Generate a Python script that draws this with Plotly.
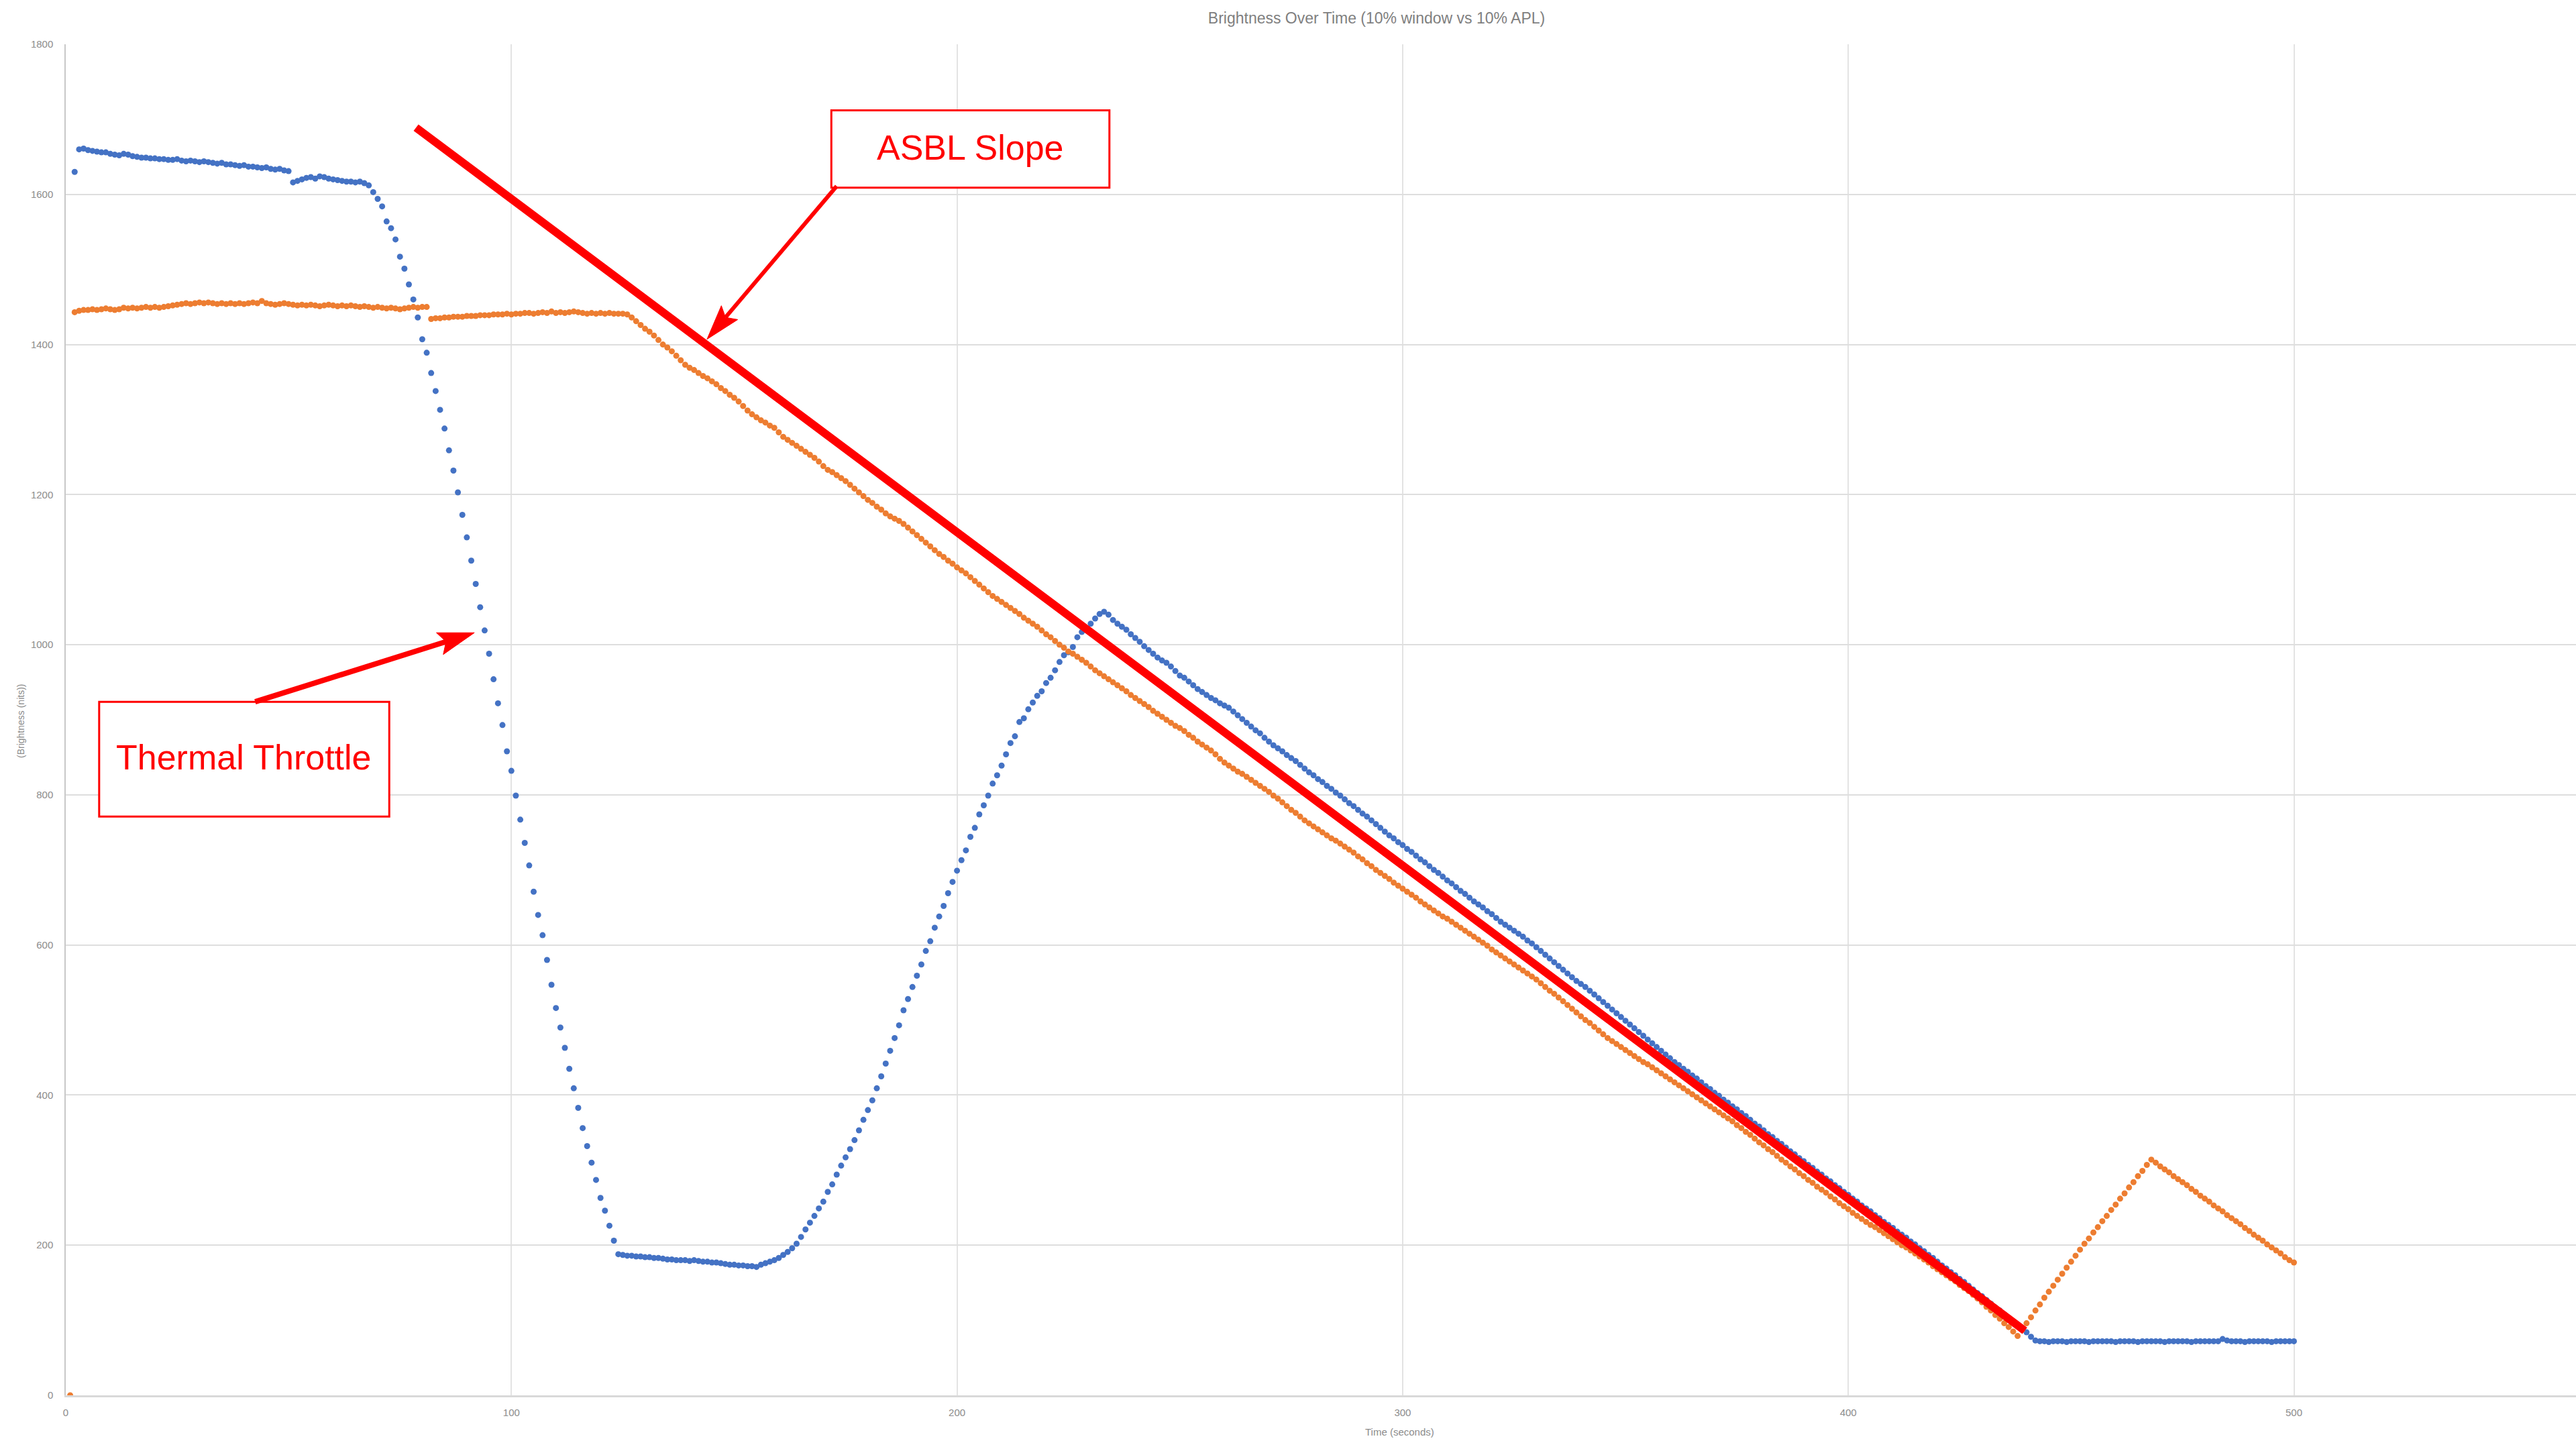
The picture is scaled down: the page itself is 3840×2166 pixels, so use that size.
import math
import plotly.graph_objects as go

# ---------------- data ----------------
blue_name = "10% window"
blue_start = 2  # seconds of first blue sample, one sample per second
blue_values = [
    1630,
    1660, 1661, 1659, 1658, 1657, 1656, 1656, 1654, 1653, 1652,
    1654, 1653, 1651, 1650, 1649, 1649, 1648, 1648, 1647, 1647,
    1646, 1646, 1647, 1645, 1644, 1645, 1644, 1643, 1644, 1643,
    1642, 1641, 1642, 1640, 1640, 1639, 1638, 1639, 1637, 1637,
    1636, 1635, 1636, 1634, 1633, 1634, 1632, 1631,
    1616, 1618, 1620, 1622, 1623, 1621, 1624, 1623, 1621, 1620,
    1619, 1618, 1617, 1617, 1616, 1617, 1615, 1612,
    1603, 1594, 1584, 1564, 1555, 1540, 1517, 1501, 1480, 1460, 1436, 1407, 1389,
    1362, 1338, 1313, 1288, 1259, 1232, 1203, 1173, 1143, 1112,
    1081, 1050, 1019, 988, 954, 922, 893, 858, 832, 799,
    767, 736, 706, 671, 640, 613, 580, 547, 516, 490,
    463, 435, 409, 383, 356, 332, 310, 287, 263, 246,
    226, 206, 188,
    187, 186, 186, 185, 185, 184, 184, 183, 183, 182,
    181, 181, 180, 180, 180, 179, 180, 179, 178, 178,
    177, 177, 176, 175, 174, 174, 173, 173, 172, 172, 171,
    174, 176, 178, 180, 183, 187, 191, 196, 202, 211,
    221, 230, 239, 249, 258, 271, 281, 294, 306, 317,
    328, 340, 353, 367, 380, 393, 409, 425, 442, 459,
    476, 493, 513, 528, 544, 559,
    574, 592, 605, 623, 638, 652, 669, 684, 699, 713,
    726, 744, 756, 774, 786, 799, 815, 826, 839, 854,
    869, 878, 897, 902, 914, 923, 932, 938, 949, 956,
    966, 977, 986, 990, 997, 1010, 1017, 1022, 1028, 1035,
    1041, 1044,
    1040, 1033, 1028, 1024, 1020, 1014, 1009, 1004, 998, 993,
    988, 983, 979, 976, 971, 965, 959, 956, 951, 946,
    941, 937, 933, 929, 926, 922, 919, 916, 911, 906,
    901, 896, 891, 886, 882, 876, 871, 866, 862, 858,
    853, 849, 845, 840, 835, 830, 826, 821, 817, 812,
    808, 803, 799, 794, 789, 785, 780, 775, 771, 766,
    761, 756, 751, 746, 742, 737, 733, 728, 724, 719,
    714, 710, 705, 700, 696, 691, 686, 682, 677, 672,
    668, 663, 658, 654, 650, 645, 641, 636, 631, 627,
    623, 619, 615, 611, 606, 602, 597, 592, 587, 582,
    577, 572, 567, 562, 557, 552, 548, 544, 539, 534,
    529, 524, 519, 514, 509, 504, 499, 494, 489, 484,
    479, 474, 469, 464, 459, 454, 449, 444, 440, 435,
    431, 426, 422, 417, 412, 408, 403, 399, 394, 390,
    385, 381, 376, 372, 367, 362, 358, 353, 348, 344,
    339, 335, 330, 325, 321, 316, 312, 307, 303, 298,
    294, 289, 285, 280, 276, 271, 267, 262, 258, 253,
    249, 245, 240, 236, 231, 227, 223, 218, 214, 210,
    205, 201, 196, 192, 187, 183, 178, 173, 169, 164,
    160, 155, 151, 146, 141, 136, 132, 127, 122, 117,
    113, 108, 103, 98, 94, 89, 84, 78, 73,
    72, 72, 71, 72, 72, 72, 71, 72, 72, 72,
    72, 71, 72, 72, 72, 72, 72, 71, 72, 72,
    72, 72, 71, 72, 72, 72, 72, 72, 71, 72,
    72, 72, 72, 72, 71, 72, 72, 72, 72, 72,
    72, 75, 73, 72, 72, 72, 71, 72, 72, 72,
    72, 72, 71, 72, 72, 72, 72, 72,
]

orange_name = "10% APL"
orange_start = 1
orange_values = [
    0,
    1443, 1445, 1446, 1446, 1447, 1446, 1447, 1448, 1447, 1446,
    1447, 1449, 1448, 1449, 1448, 1449, 1450, 1449, 1450, 1449,
    1450, 1451, 1452, 1453, 1454, 1455, 1454, 1455, 1456, 1455,
    1456, 1455, 1454, 1455, 1454, 1455, 1454, 1455, 1454, 1455,
    1456, 1455, 1458, 1455, 1454, 1453, 1454, 1455, 1454, 1453,
    1452, 1453, 1452, 1453, 1452, 1451, 1452, 1453, 1452, 1451,
    1452, 1451, 1452, 1451, 1450, 1451, 1450, 1449, 1450, 1449,
    1448, 1449, 1448, 1447, 1448, 1449, 1450, 1449, 1450, 1450,
    1434, 1435, 1435, 1436, 1436, 1437, 1437, 1437, 1438, 1438,
    1438, 1439, 1439, 1439, 1440, 1440, 1440, 1441, 1440, 1441,
    1441, 1442, 1442, 1441, 1442, 1443, 1442, 1444, 1442, 1443,
    1442, 1443, 1444, 1443, 1442, 1441, 1442, 1441, 1442, 1441,
    1442, 1441, 1441, 1441, 1440,
    1436, 1431, 1426, 1421, 1417, 1412, 1406, 1400, 1396, 1391,
    1385, 1379, 1373, 1369, 1366, 1362, 1358, 1355, 1351, 1347,
    1342, 1338, 1333, 1329, 1324, 1318, 1312, 1307, 1303, 1299,
    1296, 1292, 1289, 1283, 1277, 1273, 1269, 1265, 1261, 1257,
    1253, 1249, 1244, 1238, 1233, 1230, 1226, 1222, 1218, 1213,
    1208, 1203, 1198, 1193, 1189, 1184, 1180, 1175, 1171, 1168,
    1165, 1161, 1156, 1151, 1146, 1141, 1136, 1131, 1126, 1121,
    1117, 1112, 1108, 1103, 1099, 1095, 1090, 1085, 1080, 1075,
    1070, 1065, 1061, 1057, 1053, 1049, 1045, 1041, 1036, 1032,
    1028, 1024, 1019, 1014, 1010, 1005, 1000, 996, 991, 988,
    984, 980, 976, 971, 966, 962, 958, 954, 950, 946,
    942, 938, 933, 929, 925, 921, 917, 912, 908, 904,
    900, 896, 892, 889, 885, 880, 876, 871, 867, 863,
    859, 854, 848, 843, 839, 835, 831, 828, 824, 820,
    816, 812, 808, 804, 799, 795, 790, 785, 780, 776,
    771, 766, 762, 758, 754, 750, 746, 742, 739, 735,
    731, 727, 723, 718, 714, 709, 705, 700, 696, 692,
    688, 683, 679, 675, 671, 667, 663, 658, 654, 650,
    646, 642, 638, 635, 631, 627, 623, 619, 615, 611,
    607, 603, 599, 594, 590, 586, 582, 578, 574, 570,
    566, 562, 558, 554, 549, 544, 539, 535, 530, 525,
    520, 515, 510, 505, 500, 496, 491, 486, 481, 476,
    472, 468, 464, 460, 456, 452, 448, 444, 441, 437,
    433, 429, 425, 421, 417, 413, 409, 405, 401, 397,
    393, 389, 385, 381, 377, 373, 369, 365, 360, 356,
    351, 347, 342, 337, 333, 328, 324, 319, 314, 310,
    305, 301, 296, 292, 287, 283, 278, 274, 270, 265,
    261, 256, 252, 248, 243, 239, 235, 231, 227, 224,
    220, 216, 212, 208, 204, 200, 197, 193, 189, 185,
    181, 177, 172, 168, 164, 160, 156, 152, 147, 143,
    139, 134, 129, 124, 118, 113, 107, 102, 96, 91,
    85, 79, 87, 96, 104, 113, 121, 130, 138, 146,
    154, 162, 170, 178, 186, 194, 202, 209, 217, 224,
    232, 239, 247, 254, 262, 269, 277, 284, 292, 299,
    307, 314, 310, 305, 301, 297, 292, 288, 284, 280,
    275, 271, 266, 262, 258, 253, 249, 245, 240, 236,
    232, 228, 223, 219, 214, 210, 206, 201, 197, 193,
    189, 184, 180, 177,
]

x_ticks = [0, 100, 200, 300, 400, 500]
y_ticks = [0, 200, 400, 600, 800, 1000, 1200, 1400, 1600, 1800]

title_text = "Brightness Over Time (10% window vs 10% APL)"
x_title = "Time (seconds)"
y_title = "(Brightness (nits))"

# annotation geometry (data units)
slope_line = ((78.6, 1689), (439.6, 86))
asbl_box = (171.8, 1609, 234.2, 1712)
asbl_text = ("ASBL Slope", 202.9, 1662)
asbl_arrow = ((173.0, 1611), (143.9, 1407))
thermal_box = (7.5, 771, 72.6, 924)
thermal_text = ("Thermal Throttle", 40.0, 850)
thermal_arrow = ((42.5, 924), (91.7, 1016))

# ---------------- layout constants ----------------
W, H = 3840, 2166
ML, MR, MT, MB = 98, 0, 66, 86
X_RANGE = (0, 563.3)
Y_RANGE = (0, 1800)
PW, PH = W - ML - MR, H - MT - MB

RED = "#FF0000"
BLUE = "#4472C4"
ORANGE = "#ED7D31"
NARROW = "Liberation Sans Narrow, Arial Narrow, Liberation Sans, Arial, sans-serif"
ARIAL = "Liberation Sans, Arial, sans-serif"


def to_px(x, y):
    return (ML + (x - X_RANGE[0]) / (X_RANGE[1] - X_RANGE[0]) * PW,
            MT + (Y_RANGE[1] - y) / (Y_RANGE[1] - Y_RANGE[0]) * PH)


def to_data(px, py):
    return (X_RANGE[0] + (px - ML) / PW * (X_RANGE[1] - X_RANGE[0]),
            Y_RANGE[1] - (py - MT) / PH * (Y_RANGE[1] - Y_RANGE[0]))


def arrow_shapes(tail, tip, width, head_len, head_w):
    tx, ty = to_px(*tail)
    hx, hy = to_px(*tip)
    dx, dy = hx - tx, hy - ty
    n = math.hypot(dx, dy)
    ux, uy = dx / n, dy / n
    vx, vy = -uy, ux
    bx, by = hx - ux * head_len, hy - uy * head_len
    nx, ny = hx - ux * head_len * 0.82, hy - uy * head_len * 0.82
    pts = [(hx, hy),
           (bx + vx * head_w / 2, by + vy * head_w / 2),
           (nx, ny),
           (bx - vx * head_w / 2, by - vy * head_w / 2)]
    dpts = [to_data(*p) for p in pts]
    path = "M " + " L ".join(f"{p[0]},{p[1]}" for p in dpts) + " Z"
    sx, sy = to_data(nx, ny)
    shaft = dict(type="line", xref="x", yref="y", x0=tail[0], y0=tail[1],
                 x1=sx, y1=sy, line=dict(color=RED, width=width))
    head = dict(type="path", xref="x", yref="y", path=path,
                fillcolor=RED, line=dict(color=RED, width=1))
    return [shaft, head]


fig = go.Figure()
fig.add_trace(go.Scatter(
    x=list(range(blue_start, blue_start + len(blue_values))), y=blue_values,
    mode="markers", name=blue_name,
    marker=dict(color=BLUE, size=9, line=dict(width=0))))
fig.add_trace(go.Scatter(
    x=list(range(orange_start, orange_start + len(orange_values))), y=orange_values,
    mode="markers", name=orange_name,
    marker=dict(color=ORANGE, size=9, line=dict(width=0))))

shapes = []
(lx0, ly0), (lx1, ly1) = slope_line
shapes.append(dict(type="line", xref="x", yref="y", x0=lx0, y0=ly0, x1=lx1, y1=ly1,
                   line=dict(color=RED, width=12)))
for box in (asbl_box, thermal_box):
    shapes.append(dict(type="rect", xref="x", yref="y", x0=box[0], y0=box[1],
                       x1=box[2], y1=box[3], fillcolor="white",
                       line=dict(color=RED, width=3)))
shapes += arrow_shapes(asbl_arrow[0], asbl_arrow[1], 6, 52, 32)
shapes += arrow_shapes(thermal_arrow[0], thermal_arrow[1], 8, 54, 34)

annotations = []
for txt, ax_, ay_ in (asbl_text, thermal_text):
    annotations.append(dict(text=txt, x=ax_, y=ay_, xref="x", yref="y",
                            showarrow=False, xanchor="center", yanchor="middle",
                            font=dict(family=ARIAL, size=52, color=RED)))
annotations.append(dict(text=x_title, x=(2086 - ML) / PW, y=(MT + PH - 2134) / PH,
                        xref="paper", yref="paper", showarrow=False,
                        xanchor="center", yanchor="middle",
                        font=dict(family=NARROW, size=15, color="#8c8c8c")))
annotations.append(dict(text=y_title, x=(31 - ML) / PW, y=(MT + PH - 1075) / PH,
                        xref="paper", yref="paper", showarrow=False, textangle=-90,
                        xanchor="center", yanchor="middle",
                        font=dict(family=ARIAL, size=14, color="#8c8c8c")))

fig.update_layout(
    width=W, height=H,
    margin=dict(l=ML, r=MR, t=MT, b=MB, pad=0),
    paper_bgcolor="white", plot_bgcolor="white",
    showlegend=False,
    title=dict(text=title_text, x=2052 / W, xref="container", xanchor="center",
               y=1 - 27 / H, yref="container", yanchor="middle",
               font=dict(family=NARROW, size=23, color="#7f7f7f")),
    shapes=shapes,
    annotations=annotations,
    xaxis=dict(range=list(X_RANGE), tickmode="array", tickvals=x_ticks,
               ticktext=[str(v) for v in x_ticks],
               showgrid=True, gridcolor="#e3e3e3", gridwidth=1.5,
               showline=True, linecolor="#d9d9d9", linewidth=3,
               zeroline=False, ticks="", ticklabelstandoff=10,
               tickfont=dict(family=NARROW, size=15, color="#8c8c8c")),
    yaxis=dict(range=list(Y_RANGE), tickmode="array", tickvals=y_ticks,
               ticktext=[str(v) for v in y_ticks],
               showgrid=True, gridcolor="#dedede", gridwidth=2,
               showline=True, linecolor="#c8c8c8", linewidth=1.5,
               zeroline=False, ticks="", ticklabelstandoff=14,
               tickfont=dict(family=NARROW, size=15, color="#8c8c8c")),
)

fig.write_html("out.html", config={"displayModeBar": False},
               post_script="document.body.style.margin='0';")
